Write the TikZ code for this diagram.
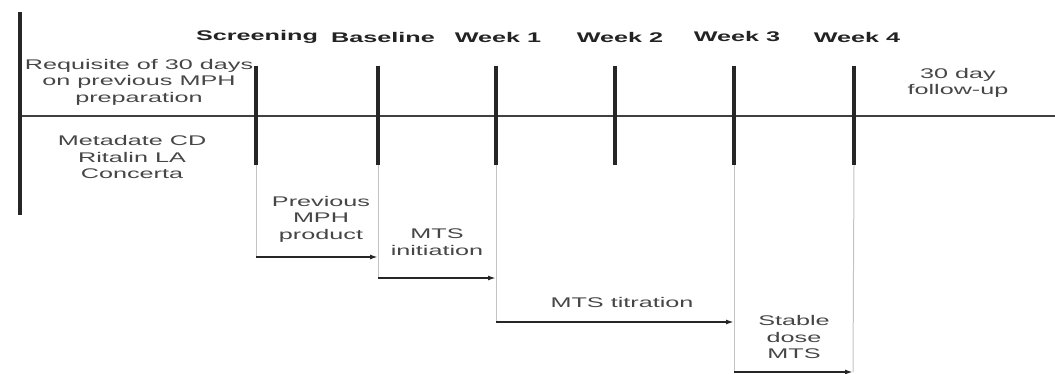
\documentclass[tikz,border=0pt]{standalone}
\usepackage{fontspec}
\newfontfamily\tlfont[FakeStretch=1.8]{Liberation Sans}
\usetikzlibrary{arrows.meta}

\definecolor{tgray}{RGB}{195,195,195}
\definecolor{ttext}{RGB}{70,70,70}
\definecolor{twk}{RGB}{35,35,35}

\tikzset{
	lbl/.style={font=\tlfont\fontsize{14}{16.5}\selectfont, text=ttext, align=center, inner sep=0pt},
	wk/.style={font=\tlfont\bfseries\fontsize{14}{16.5}\selectfont, text=twk, inner sep=0pt},
	wkbar/.style={line width=4.5pt, black!85},
	guide/.style={tgray, line width=1pt},
	phase/.style={line width=1.8pt, black!85, -{Latex[length=8pt,width=5pt]}},
}

\begin{document}
\begin{tikzpicture}[x=1pt, y=-1pt]
			\useasboundingbox (0,0) rectangle (1055,374);

			% --- Time axis ---
			\coordinate (axL) at (20,116);
			\coordinate (axR) at (1055,116);
			\coordinate (barT) at (20,12);
			\coordinate (barB) at (20,215);
			\draw[line width=1.8pt, black!75] (axL) -- (axR);
			\draw[wkbar] (barT) -- (barB);

			% --- Visit ticks ---
			\foreach \n/\x/\lx/\t in {scr/256/257/Screening, bas/378/383/Baseline, wa/496/498/Week 1,
					wb/615/620/Week 2, wc/734/737/Week 3, wd/854/857/Week 4} {
					\coordinate (\n-top) at (\x,66);
					\coordinate (\n-bot) at (\x,165);
					\draw[wkbar] (\n-top) -- (\n-bot);
					\node[wk] (\n-lbl) at (\lx,37) {\t};
				}

			% Text on the axis
			\node[lbl] (req) at (139,82) {Requisite of 30 days\\on previous MPH\\preparation};
			\node[lbl] (prod) at (132,157) {Metadate CD\\Ritalin LA\\Concerta};
			\node[lbl] (fup) at (958,83) {30 day\\follow-up};

			% --- Phases below the axis ---
			\coordinate (pa) at (256,257);
			\coordinate (pb) at (378,278);
			\coordinate (pc) at (496,322);
			\coordinate (pd) at (734,372);
			\coordinate (pe) at (853,372);

			\draw[guide] (scr-bot) -- (pa);
			\draw[guide] (bas-bot) -- (pb);
			\draw[guide] (wa-bot) -- (pc);
			\draw[guide] (wc-bot) -- (pd);
			\draw[guide] (wd-bot) -- (pe);

			\draw[phase] (pa) -- (pa -| pb);
			\draw[phase] (pb) -- (pb -| pc);
			\draw[phase] (pc) -- (pc -| pd);
			\draw[phase] (pd) -- (pe);

			\node[lbl] (prev) at (321,219) {Previous\\MPH\\product};
			\node[lbl] (init) at (437,242) {MTS\\initiation};
			\node[lbl] (titr) at (622,302) {MTS titration};
			\node[lbl] (stab) at (794,337) {Stable\\dose\\MTS};

		\end{tikzpicture}
\end{document}
